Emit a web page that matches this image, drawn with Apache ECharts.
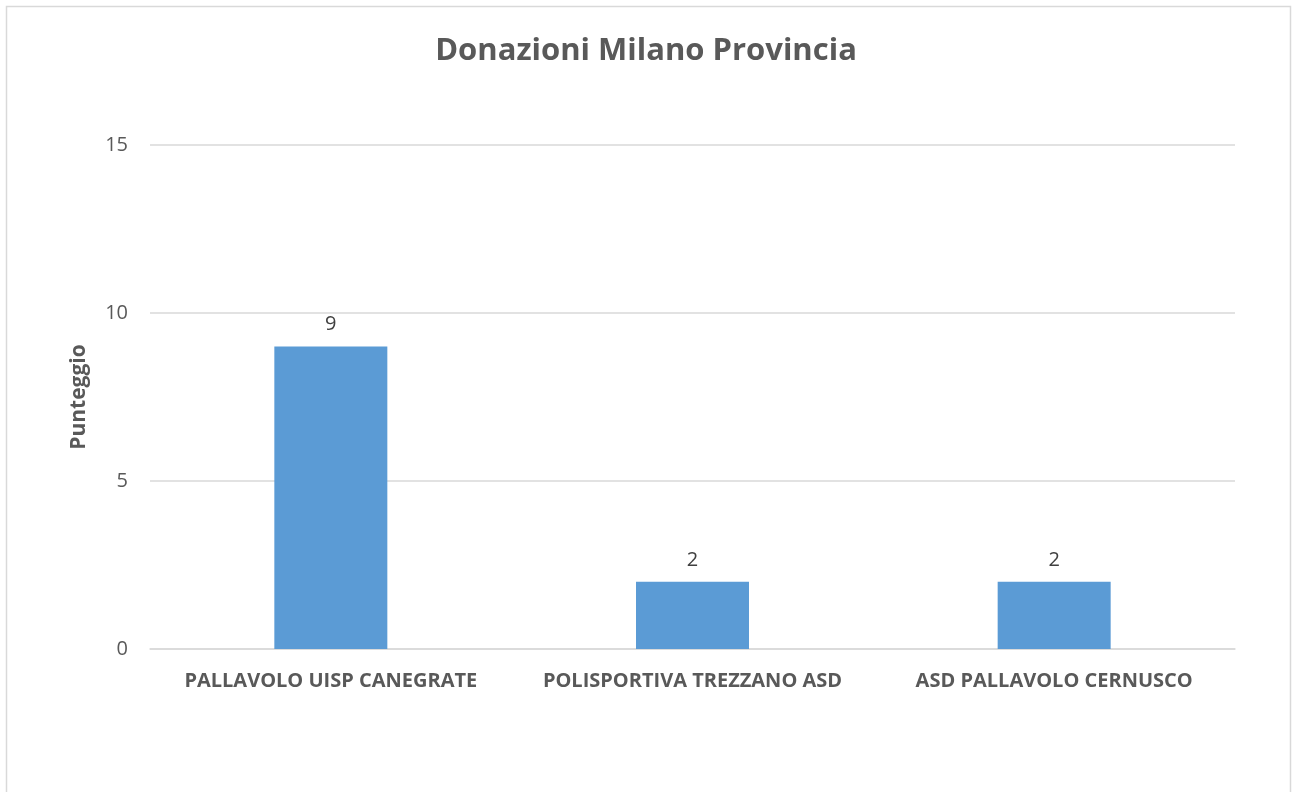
<!DOCTYPE html>
<html>
<head>
<meta charset="utf-8">
<script src="https://cdn.jsdelivr.net/npm/echarts@6/dist/echarts.min.js"></script>
<style>
  html, body { margin: 0; padding: 0; background: #fff; }
  #chart { width: 1292px; height: 792px; }
</style>
</head>
<body>
<div id="chart"></div>
<script>
const categories = ['PALLAVOLO UISP CANEGRATE', 'POLISPORTIVA TREZZANO ASD', 'ASD PALLAVOLO CERNUSCO'];
const values = [9, 2, 2];
const titleText = 'Donazioni Milano Provincia';
const yAxisName = 'Punteggio';

const font = '"Open Sans", Calibri, sans-serif';
const grey = '#595959';

let chart = echarts.init(document.getElementById('chart'));
let option = {
  animation: false,
  textStyle: { fontFamily: font },
  graphic: [{
    type: 'rect',
    shape: { x: 6.5, y: 6.5, width: 1284, height: 800 },
    style: { fill: 'none', stroke: '#d9d9d9', lineWidth: 1.5 },
    silent: true
  }],
  title: {
    text: titleText,
    left: 'center',
    top: 31,
    textStyle: { fontFamily: font, fontSize: 31, fontWeight: 'bold', color: grey }
  },
  grid: { left: 150, right: 57, top: 145, bottom: 143 },
  xAxis: {
    type: 'category',
    data: categories,
    axisLine: { lineStyle: { color: '#d9d9d9', width: 1.5 } },
    axisTick: { show: false },
    axisLabel: {
      interval: 0,
      hideOverlap: false,
      color: grey, fontSize: 20, fontWeight: 'bold', margin: 22, fontFamily: font
    }
  },
  yAxis: {
    type: 'value',
    min: 0,
    max: 15,
    interval: 5,
    name: yAxisName,
    nameLocation: 'middle',
    nameGap: 60,
    nameTextStyle: { color: grey, fontSize: 21, fontWeight: 'bold', fontFamily: font },
    axisLine: { show: false },
    axisTick: { show: false },
    axisLabel: { color: grey, fontSize: 20, margin: 22, fontFamily: font },
    splitLine: { lineStyle: { color: '#d9d9d9', width: 1.5 } }
  },
  series: [{
    type: 'bar',
    data: values,
    barWidth: 113,
    itemStyle: { color: '#5b9bd5' },
    label: {
      show: true,
      position: 'top',
      distance: 12,
      color: '#404040',
      fontSize: 20,
      fontFamily: font
    }
  }]
};
chart.setOption(option);
</script>
</body>
</html>
